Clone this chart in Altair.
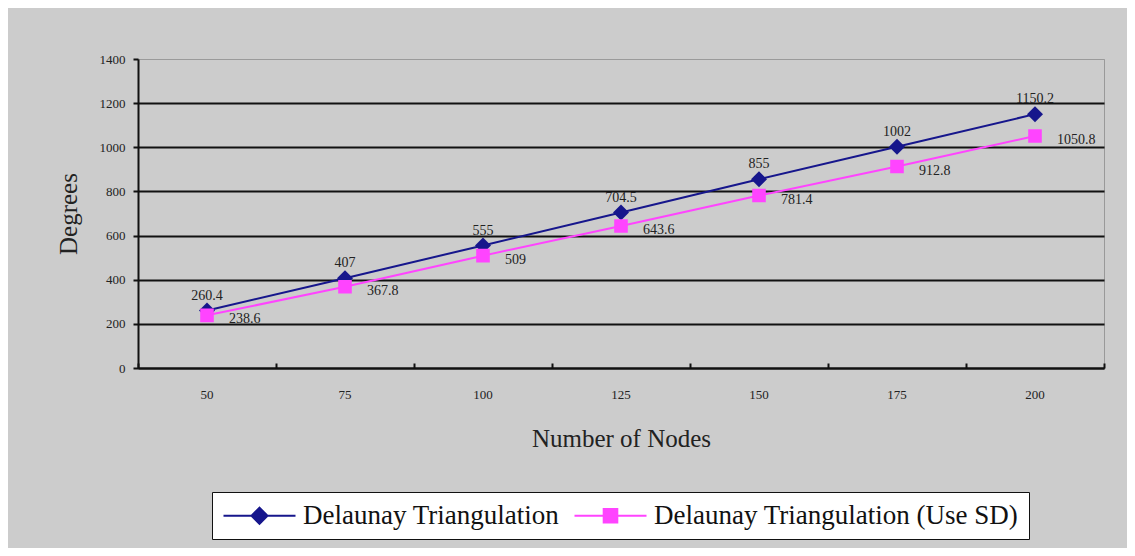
import altair as alt
import pandas as pd

nodes = [50, 75, 100, 125, 150, 175, 200]
dt = [260.4, 407, 555, 704.5, 855, 1002, 1150.2]
dt_sd = [238.6, 367.8, 509, 643.6, 781.4, 912.8, 1050.8]
series = ["Delaunay Triangulation", "Delaunay Triangulation (Use SD)"]
y_ticks = [0, 200, 400, 600, 800, 1000, 1200, 1400]
colors = ["#16168c", "#ff44ff"]

rows = []
for n, a, b in zip(nodes, dt, dt_sd):
    rows.append({"nodes": n, "series": series[0], "deg": a, "lab": f"{a:g}"})
    rows.append({"nodes": n, "series": series[1], "deg": b, "lab": f"{b:g}"})
df = pd.DataFrame(rows)

FONT = "Liberation Serif"
W, H = 966, 309

xscale = alt.Scale(type="band", paddingInner=0, paddingOuter=0)
x_main = alt.X("nodes:O", scale=xscale, bandPosition=0.5,
               axis=alt.Axis(title="Number of Nodes", labelAngle=0, ticks=False,
                             domainColor="#111", domainWidth=2,
                             labelFont=FONT, labelFontSize=13, labelColor="#222",
                             labelPadding=20, titleFont=FONT, titleFontSize=25,
                             titleFontWeight="normal", titleColor="#222",
                             titleY=70, titleBaseline="middle"))
x_ticks = alt.X("nodes:O", scale=xscale, bandPosition=0.5,
                axis=alt.Axis(orient="top", offset=-H, labels=False, domain=False,
                              title=None, tickBand="extent", tickSize=5,
                              tickColor="#111", tickWidth=2, grid=False))
x_none = alt.X("nodes:O", scale=xscale, bandPosition=0.5, axis=None)

y = alt.Y("deg:Q", scale=alt.Scale(domain=[0, 1400], nice=False),
          axis=alt.Axis(values=y_ticks, format="d", title="Degrees", grid=True,
                        gridColor={"condition": {"test": "datum.value >= 1400", "value": "#9a9a9a"}, "value": "#111"},
                        gridWidth={"condition": {"test": "datum.value >= 1400", "value": 1}, "value": 2},
                        domainColor="#111", domainWidth=2, tickColor="#111", tickWidth=2,
                        tickSize=5, labelFont=FONT, labelFontSize=13, labelColor="#222",
                        labelPadding=8, titleFont=FONT, titleFontSize=25,
                        titleFontWeight="normal", titleColor="#222", titleAngle=-90,
                        titleX=-70, titleY=H / 2, titleAlign="center",
                        titleBaseline="middle"))

# marker shapes: a short horizontal stroke (only visible when stroked, i.e. in the legend)
# plus the filled marker itself
diamond_path = "M-4.5,0L4.5,0M0,-1L1,0L0,1L-1,0Z"
square_path = "M-4.5,0L4.5,0M-0.85,-0.85L0.85,-0.85L0.85,0.85L-0.85,0.85Z"

legend = alt.Legend(
    title=None, orient="none", legendX=74, legendY=433, direction="horizontal",
    fillColor="white", strokeColor="#111", padding=10,
    labelFont=FONT, labelFontSize=27, labelColor="#111", labelLimit=600,
    symbolSize=256, symbolOffset=24, labelOffset=30, columnPadding=10,
    symbolStrokeWidth=2, symbolOpacity=1,
)

cscale = alt.Scale(domain=series, range=colors)
sscale = alt.Scale(domain=series, range=[diamond_path, square_path])

base = alt.Chart(df)

lines = base.mark_line(strokeWidth=2).encode(
    x=x_main, y=y, color=alt.Color("series:N", scale=cscale, legend=legend),
    detail="series:N")
points = base.mark_point(filled=True, size=256, opacity=1, strokeWidth=0).encode(
    x=x_ticks, y=y,
    color=alt.Color("series:N", scale=cscale, legend=legend),
    stroke=alt.Stroke("series:N", scale=cscale, legend=legend),
    shape=alt.Shape("series:N", scale=sscale, legend=legend))

lab1 = base.transform_filter(alt.datum.series == series[0]).mark_text(
    dy=-15, font=FONT, fontSize=14, color="#222").encode(x=x_none, y=y, text="lab:N")
lab2 = base.transform_filter(alt.datum.series == series[1]).mark_text(
    align="left", dx=22, dy=4, font=FONT, fontSize=14, color="#222").encode(
    x=x_none, y=y, text="lab:N")

chart = alt.layer(lines, points, lab1, lab2).resolve_axis(x="independent").properties(
    width=W, height=H, background="#cccccc",
    autosize=alt.AutoSizeParams(type="none"),
    padding={"left": 130, "top": 51, "right": 23, "bottom": 180},
).configure_view(stroke="#999999", strokeWidth=1)

chart.save("out.html", embed_options={"renderer": "svg", "actions": False})
